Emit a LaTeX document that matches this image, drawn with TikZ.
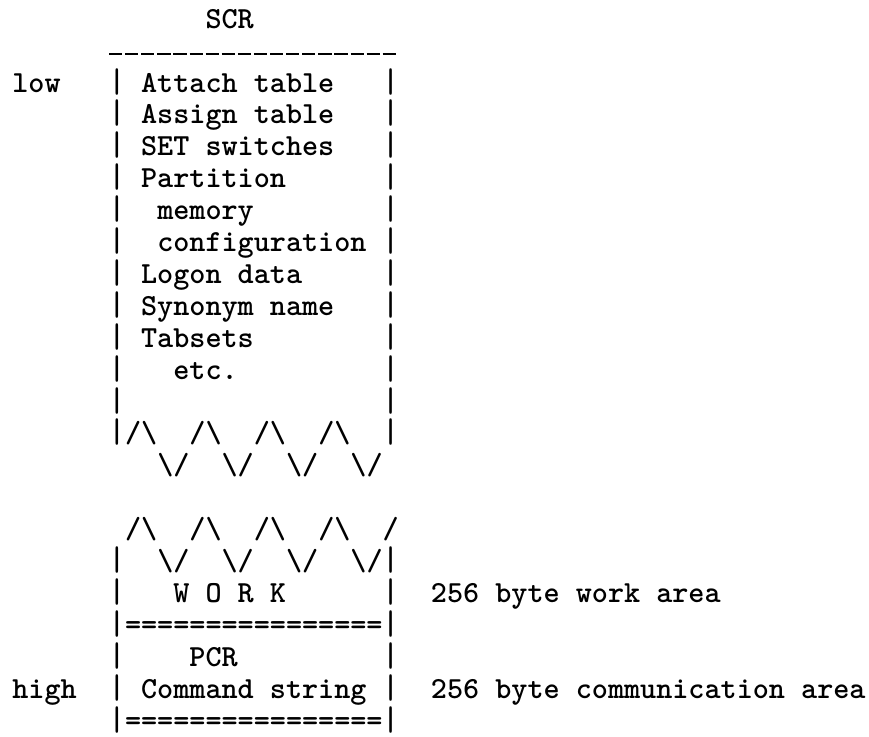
\documentclass[tikz,border=0pt]{standalone}
\usepackage{fontspec}
\newcommand\tw{\ttfamily\bfseries}
\begin{document}
\begin{tikzpicture}[x=0.5pt,y=-0.5pt,
  tw/.style={anchor=base west,inner sep=0pt,outer sep=0pt,
    font=\fontsize{15.33}{18}\selectfont\tw,text=black},
  rule/.style={line width=1.1pt,dash pattern=on 6.6pt off 1.45pt,black}]
\useasboundingbox[fill=white] (0,0) rectangle (869,736);
\newcommand\putt[4]{\node[tw] (#1) at ({-3.75+16.1*(#3)},{92+31.9*(#2)}) {#4};}
\newcommand\vb{\scalebox{1}[1.12]{|}}
\newcommand\lbar[2]{\putt{#1l}{#2}{7}{\vb}\putt{#1r}{#2}{24}{\vb}}
% title
\putt{scr}{-2}{13}{SCR}
% top dashed rule
\coordinate (dl) at (109,54);
\coordinate (dr) at (398,54);
\draw[rule] (dl) -- (dr);
% SCR contents
\putt{low}{0}{1}{low}
\lbar{a}{0}\putt{attach}{0}{9}{Attach table}
\lbar{b}{1}\putt{assign}{1}{9}{Assign table}
\lbar{c}{2}\putt{set}{2}{9}{SET switches}
\lbar{d}{3}\putt{part}{3}{9}{Partition}
\lbar{e}{4}\putt{mem}{4}{10}{memory}
\lbar{f}{5}\putt{conf}{5}{10}{configuration}
\lbar{g}{6}\putt{logon}{6}{9}{Logon data}
\lbar{h}{7}\putt{syn}{7}{9}{Synonym name}
\lbar{i}{8}\putt{tabs}{8}{9}{Tabsets}
\lbar{j}{9}\putt{etc}{9}{11}{etc.}
\lbar{k}{10}
% break marks
\lbar{m}{11}
\foreach \c in {8,12,16,20} {\putt{up\c}{11}{\c}{/\textbackslash}}
\foreach \c in {10,14,18,22} {\putt{dn\c}{12}{\c}{\textbackslash/}}
\foreach \c in {8,12,16,20} {\putt{upb\c}{14}{\c}{/\textbackslash}}
\putt{slash}{14}{24}{/}
\lbar{n}{15}
\foreach \c in {10,14,18,22} {\putt{dnb\c}{15}{\c}{\textbackslash/}}
% work area
\lbar{o}{16}\putt{work}{16}{11}{W O R K}
\putt{workarea}{16}{27}{256 byte work area}
\lbar{p}{17}\putt{eqa}{17}{8}{================}
\lbar{q}{18}\putt{pcr}{18}{12}{PCR}
\putt{high}{19}{1}{high}
\lbar{s}{19}\putt{cmd}{19}{9}{Command string}
\putt{commarea}{19}{27}{256 byte communication area}
\lbar{t}{20}\putt{eqb}{20}{8}{================}
\end{tikzpicture}
\end{document}
